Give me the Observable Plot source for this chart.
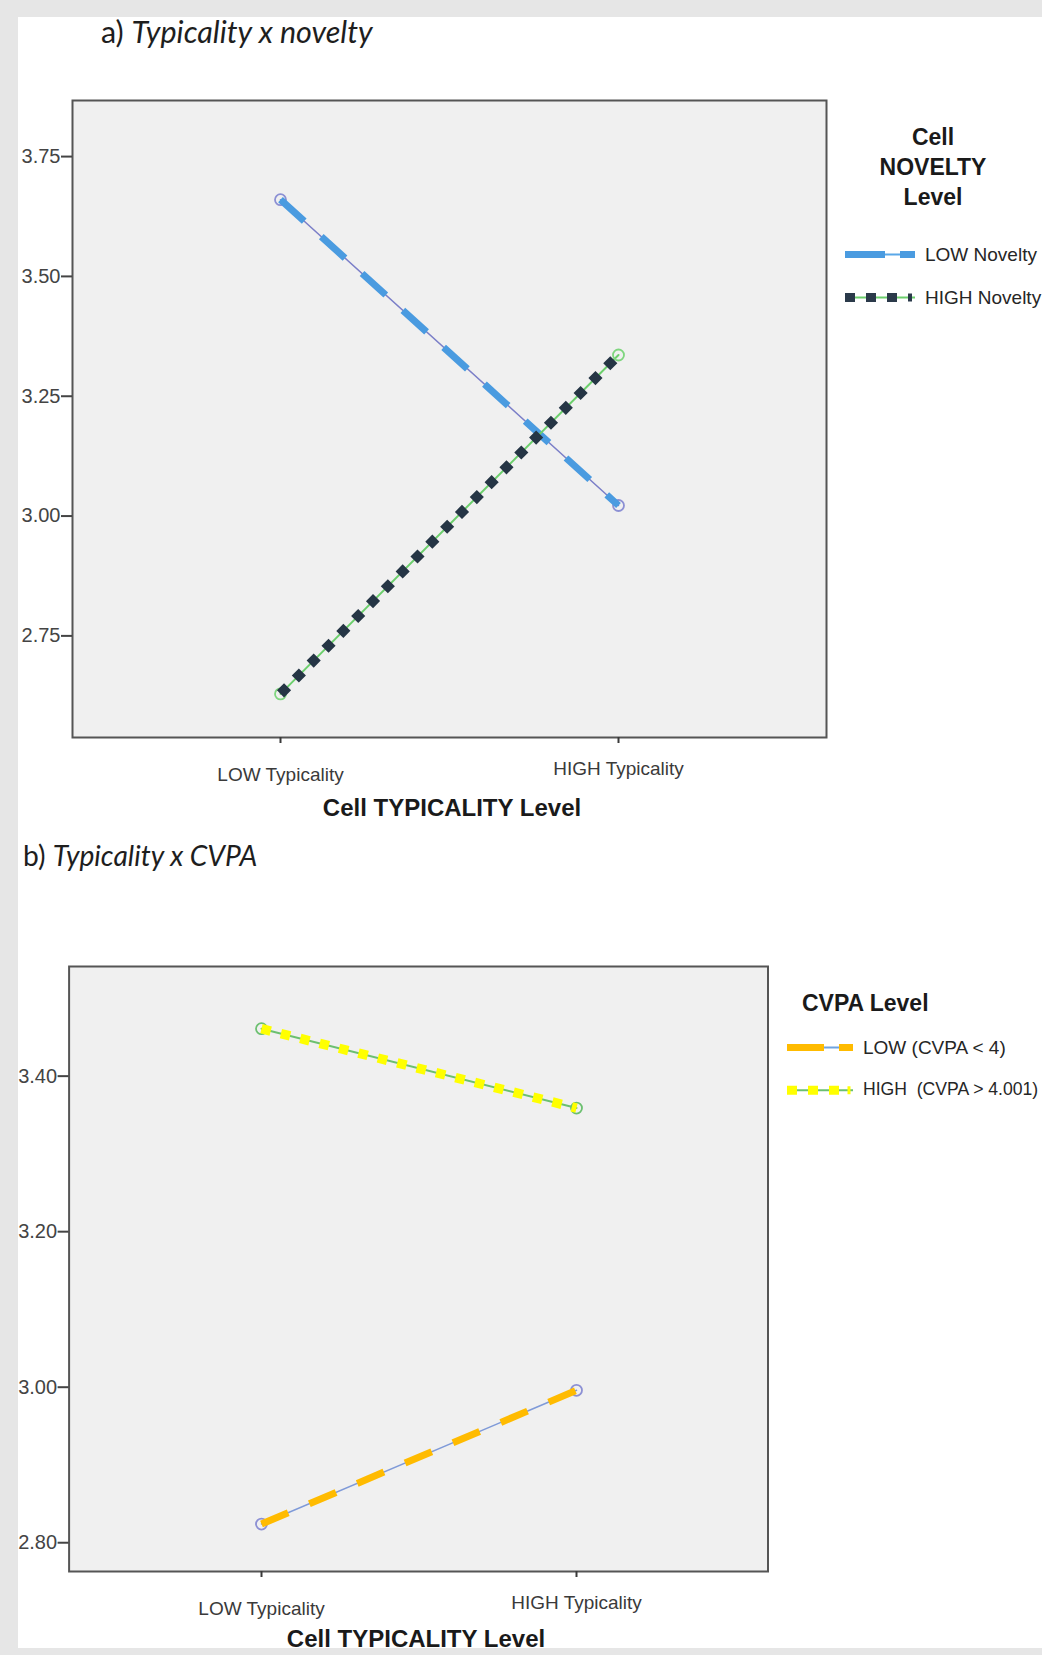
<!DOCTYPE html>
<html>
<head>
<meta charset="utf-8">
<script src="https://cdn.jsdelivr.net/npm/d3@7"></script>
<script src="https://cdn.jsdelivr.net/npm/@observablehq/plot@0.6"></script>
<style>
  html, body { margin: 0; padding: 0; background: #fff; }
  #page { position: relative; width: 1042px; height: 1655px; background: #fff; overflow: hidden; font-family: "Liberation Sans", Arial, sans-serif; }
  .band { position: absolute; background: #e6e6e6; z-index: 5; }
  .abs { position: absolute; white-space: nowrap; line-height: 1; z-index: 3; }
  .title { font-family: Lato, "Open Sans", sans-serif; color: #1e1e1e; transform: translateY(-50%); }
  .title i { font-style: italic; }
  .axtitle { font-weight: bold; font-size: 24px; color: #1a1a1a; transform: translate(-50%, -50%); }
  .legtitle { font-weight: bold; font-size: 23px; color: #1a1a1a; text-align: center; line-height: 30px; transform: translateX(-50%); }
  .legitem { font-size: 19px; color: #262626; transform: translateY(-50%); display: flex; align-items: center; }
  .legitem svg { margin-right: 10px; }
  .chart { position: absolute; left: 0; z-index: 1; }
</style>
</head>
<body>
<div id="page">
  <div class="band" style="left:0;top:0;width:1042px;height:17px"></div>
  <div class="band" style="left:0;top:0;width:18px;height:1655px"></div>
  <div class="band" style="left:0;top:1648px;width:1042px;height:7px"></div>

  <div class="abs title" style="left:101px;top:31px;font-size:30.5px">a) <i>Typicality x novelty</i></div>
  <div class="abs title" style="left:23px;top:855px;font-size:28.2px">b) <i>Typicality x CVPA</i></div>

  <div id="chartA" class="chart" style="top:0"></div>
  <div id="chartB" class="chart" style="top:860px"></div>

  <div class="abs axtitle" style="left:452px;top:808px">Cell TYPICALITY Level</div>
  <div class="abs axtitle" style="left:416px;top:1639px">Cell TYPICALITY Level</div>

  <div class="abs legtitle" style="left:933px;top:122px">Cell<br>NOVELTY<br>Level</div>
  <div class="abs legitem" style="left:845px;top:254px">
    <svg width="70" height="12"><line x1="0" y1="6" x2="70" y2="6" stroke="#5aa8e8" stroke-width="2"/><line x1="0" y1="6" x2="40" y2="6" stroke="#4a9be0" stroke-width="7"/><line x1="55" y1="6" x2="70" y2="6" stroke="#4a9be0" stroke-width="7"/></svg>LOW Novelty</div>
  <div class="abs legitem" style="left:845px;top:297px">
    <svg width="70" height="12"><line x1="0" y1="6" x2="70" y2="6" stroke="#6ccf6c" stroke-width="2"/><line x1="0" y1="6" x2="60" y2="6" stroke="#2b3a4a" stroke-width="9" stroke-dasharray="10,11"/><line x1="65" y1="2" x2="65" y2="10" stroke="#2b3a4a" stroke-width="4"/></svg>HIGH Novelty</div>

  <div class="abs" style="left:802px;top:992px;font-weight:bold;font-size:23px;color:#1a1a1a">CVPA Level</div>
  <div class="abs legitem" style="left:787px;top:1047px">
    <svg width="66" height="12"><line x1="0" y1="6" x2="66" y2="6" stroke="#6fa3e0" stroke-width="2"/><line x1="0" y1="6" x2="37" y2="6" stroke="#ffbb00" stroke-width="7"/><line x1="52" y1="6" x2="66" y2="6" stroke="#ffbb00" stroke-width="7"/></svg>LOW (CVPA &lt; 4)</div>
  <div class="abs legitem" style="left:787px;top:1090px;font-size:17.6px">
    <svg width="66" height="12"><line x1="0" y1="6" x2="66" y2="6" stroke="#6cc070" stroke-width="2"/><line x1="0" y1="6" x2="60" y2="6" stroke="#ffff00" stroke-width="9" stroke-dasharray="10,11"/><line x1="62" y1="2" x2="62" y2="10" stroke="#ffff00" stroke-width="3"/></svg>HIGH&nbsp; (CVPA &gt; 4.001)</div>
</div>

<script>
// ---- data ----
const typicality = ["LOW Typicality", "HIGH Typicality"];
const noveltyLow = [3.66, 3.022];
const noveltyHigh = [2.629, 3.336];
const noveltyTicks = [2.75, 3.00, 3.25, 3.50, 3.75];
const cvpaLow = [2.824, 2.996];
const cvpaHigh = [3.461, 3.359];
const cvpaTicks = [2.80, 3.00, 3.20, 3.40];

const rows = (vals) => typicality.map((t, i) => ({t, v: vals[i]}));
const fmt = d3.format(".2f");

function axes(yTicks) {
  return [
    Plot.axisY(yTicks, {tickSize: 11, tickPadding: 1, tickFormat: fmt, fontSize: 20, color: "#444", strokeWidth: 2, label: null}),
    Plot.axisX([typicality[0]], {tickSize: 6, tickPadding: 24, fontSize: 19, color: "#3a3a3a", strokeWidth: 2, label: null}),
    Plot.axisX([typicality[1]], {tickSize: 6, tickPadding: 18, fontSize: 19, color: "#3a3a3a", strokeWidth: 2, label: null})
  ];
}

const chartA = Plot.plot({
  width: 1042, height: 830,
  marginLeft: 72, marginRight: 216, marginTop: 100, marginBottom: 93,
  style: {background: "transparent", fontFamily: "Liberation Sans, Arial, sans-serif", overflow: "visible"},
  x: {type: "point", domain: typicality, padding: 0.6128, align: 0.5, axis: null},
  y: {domain: [2.538, 3.867], axis: null},
  marks: [
    Plot.frame({fill: "#f0f0f0", stroke: "none"}),
    // LOW Novelty
    Plot.line(rows(noveltyLow), {x: "t", y: "v", stroke: "#7b7fc8", strokeWidth: 1.5}),
    Plot.dot(rows(noveltyLow), {x: "t", y: "v", r: 5.5, stroke: "#8c90d4", strokeWidth: 1.8, fill: "none"}),
    Plot.line(rows(noveltyLow), {x: "t", y: "v", stroke: "#4a9be0", strokeWidth: 7, strokeDasharray: "32,23", strokeLinecap: "butt"}),
    // HIGH Novelty
    Plot.line(rows(noveltyHigh), {x: "t", y: "v", stroke: "#6ccf6c", strokeWidth: 2}),
    Plot.dot(rows(noveltyHigh), {x: "t", y: "v", r: 5.5, stroke: "#7fd67f", strokeWidth: 1.8, fill: "none"}),
    Plot.line(rows(noveltyHigh), {x: "t", y: "v", stroke: "#253545", strokeWidth: 10, strokeDasharray: "10,11", strokeLinecap: "butt"}),
    Plot.frame({stroke: "#555", strokeWidth: 2}),
    ...axes(noveltyTicks)
  ]
});
document.getElementById("chartA").append(chartA);

const chartB = Plot.plot({
  width: 1042, height: 795,
  marginLeft: 68.6, marginRight: 274.5, marginTop: 106, marginBottom: 84,
  style: {background: "transparent", fontFamily: "Liberation Sans, Arial, sans-serif", overflow: "visible"},
  x: {type: "point", domain: typicality, padding: 0.607, align: 0.5, axis: null},
  y: {domain: [2.763, 3.541], axis: null},
  marks: [
    Plot.frame({fill: "#f0f0f0", stroke: "none"}),
    // HIGH CVPA
    Plot.line(rows(cvpaHigh), {x: "t", y: "v", stroke: "#6cc070", strokeWidth: 2}),
    Plot.dot(rows(cvpaHigh), {x: "t", y: "v", r: 5.5, stroke: "#6cc070", strokeWidth: 1.8, fill: "none"}),
    Plot.line(rows(cvpaHigh), {x: "t", y: "v", stroke: "#ffff00", strokeWidth: 9.5, strokeDasharray: "9.5,10.5", strokeLinecap: "butt"}),
    // LOW CVPA
    Plot.line(rows(cvpaLow), {x: "t", y: "v", stroke: "#7f9ad8", strokeWidth: 1.5}),
    Plot.dot(rows(cvpaLow), {x: "t", y: "v", r: 5.5, stroke: "#8c90d4", strokeWidth: 1.8, fill: "none"}),
    Plot.line(rows(cvpaLow), {x: "t", y: "v", stroke: "#ffbb00", strokeWidth: 7, strokeDasharray: "29,23", strokeLinecap: "butt"}),
    Plot.frame({stroke: "#555", strokeWidth: 2}),
    ...axes(cvpaTicks)
  ]
});
document.getElementById("chartB").append(chartB);
</script>
</body>
</html>
